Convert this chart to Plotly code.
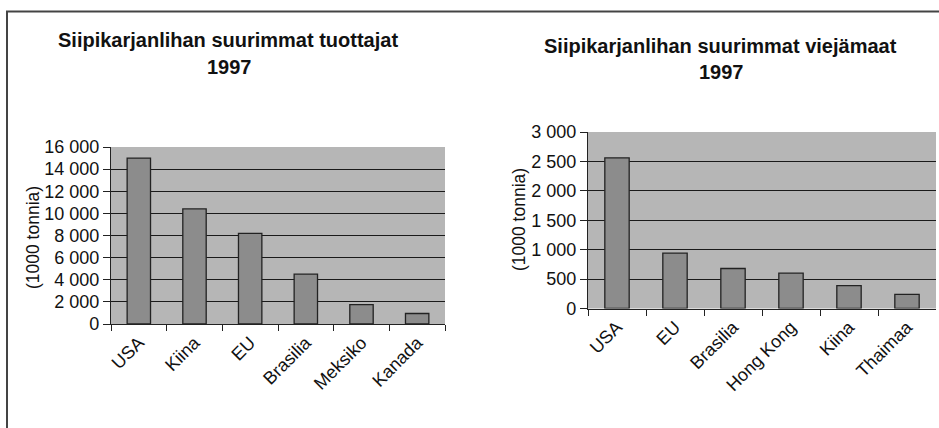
import plotly.graph_objects as go

W, H = 939, 428

# ---- data ----
prod_categories = ["USA", "Kiina", "EU", "Brasilia", "Meksiko", "Kanada"]
prod_values = [15000, 10400, 8200, 4500, 1750, 950]
prod_tickvals = [0, 2000, 4000, 6000, 8000, 10000, 12000, 14000, 16000]
prod_ticktext = ["0", "2 000", "4 000", "6 000", "8 000", "10 000", "12 000", "14 000", "16 000"]

exp_categories = ["USA", "EU", "Brasilia", "Hong Kong", "Kiina", "Thaimaa"]
exp_values = [2560, 940, 680, 600, 390, 240]
exp_tickvals = [0, 500, 1000, 1500, 2000, 2500, 3000]
exp_ticktext = ["0", "500", "1 000", "1 500", "2 000", "2 500", "3 000"]

title_left = "Siipikarjanlihan suurimmat tuottajat"
title_right = "Siipikarjanlihan suurimmat viejämaat"
year_text = "1997"
y_title = "(1000 tonnia)"

FONT = "Liberation Sans, Arial, sans-serif"
PLOT_BG = "#b6b6b6"
BAR_FILL = "#8c8c8c"
DARK = "#222222"


def px_x(x):
    return x / W


def px_y(y):
    return 1 - y / H


fig = go.Figure()
fig.add_trace(go.Bar(x=prod_categories, y=prod_values, xaxis="x", yaxis="y",
                     marker=dict(color=BAR_FILL, line=dict(color=DARK, width=1.3)),
                     showlegend=False, hoverinfo="skip"))
fig.add_trace(go.Bar(x=exp_categories, y=exp_values, xaxis="x2", yaxis="y2",
                     marker=dict(color=BAR_FILL, line=dict(color=DARK, width=1.3)),
                     showlegend=False, hoverinfo="skip"))

xcommon = dict(type="category", tickson="boundaries", ticks="outside", ticklen=6,
               tickcolor=DARK, tickwidth=1, showline=True, linecolor=DARK, linewidth=1.2,
               tickangle=-45, tickfont=dict(family=FONT, size=18, color="#111"),
               showgrid=False, zeroline=False, fixedrange=True, automargin=False)
ycommon = dict(ticks="outside", ticklen=7, tickcolor=DARK, tickwidth=1,
               showline=True, linecolor=DARK, linewidth=1.2,
               showgrid=True, gridcolor="#1a1a1a", gridwidth=1.2,
               tickfont=dict(family=FONT, size=18, color="#111"),
               zeroline=False, fixedrange=True, automargin=False)

fig.update_layout(
    width=W, height=H, autosize=False,
    margin=dict(l=0, r=0, t=0, b=0, pad=0),
    paper_bgcolor="white",
    plot_bgcolor=PLOT_BG,
    bargap=0.58,
    hovermode=False,
    xaxis=dict(domain=[px_x(111), px_x(445)], anchor="y", **xcommon),
    yaxis=dict(domain=[px_y(324), px_y(147)], anchor="x", range=[0, 16000],
               tickvals=prod_tickvals, ticktext=prod_ticktext, **ycommon),
    xaxis2=dict(domain=[px_x(588), px_x(936)], anchor="y2", **xcommon),
    yaxis2=dict(domain=[px_y(308.5), px_y(132)], anchor="x2", range=[0, 3000],
                tickvals=exp_tickvals, ticktext=exp_ticktext, **ycommon),
)

ann = []
def add_text(text, x, y, size, bold=False, angle=0):
    ann.append(dict(text=f"<b>{text}</b>" if bold else text, x=px_x(x), y=px_y(y),
                    xref="paper", yref="paper", xanchor="center", yanchor="middle",
                    showarrow=False, textangle=angle,
                    font=dict(family=FONT, size=size, color="#111")))

add_text(title_left, 228, 40, 20, bold=True)
add_text(year_text, 229, 67, 20, bold=True)
add_text(title_right, 720, 46, 20, bold=True)
add_text(year_text, 721, 72, 20, bold=True)
add_text(y_title, 33, 238, 17.5, angle=-90)
add_text(y_title, 519, 220, 17.5, angle=-90)
fig.update_layout(annotations=ann)

fig.add_shape(type="rect", xref="paper", yref="paper",
              x0=px_x(7), x1=1.05, y0=-0.05, y1=px_y(11.5),
              line=dict(color="#444", width=2), fillcolor="rgba(0,0,0,0)", layer="above")

fig.write_html("out.html",
               config={"displayModeBar": False},
               post_script="document.body.style.margin='0';document.body.style.overflow='hidden';")
